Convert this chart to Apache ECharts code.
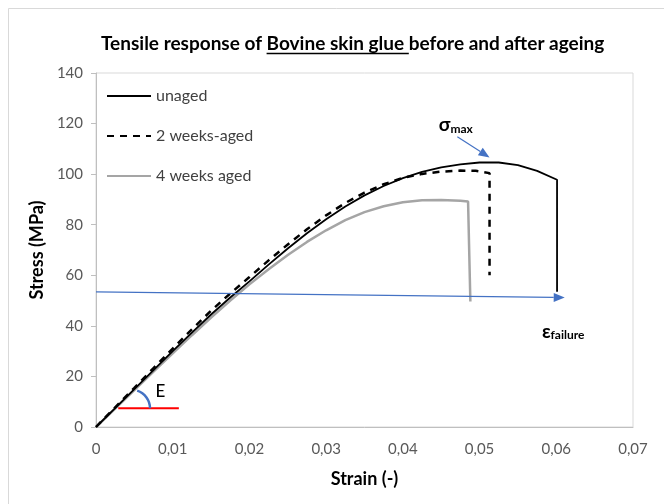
<!DOCTYPE html>
<html>
<head>
<meta charset="utf-8">
<script src="https://cdn.jsdelivr.net/npm/echarts@6/dist/echarts.min.js"></script>
<style>
html, body { margin: 0; padding: 0; background: #fff; }
#chart { width: 664px; height: 504px; }
</style>
</head>
<body>
<div id="chart"></div>
<script>
;
(function(window, document, echarts){

	/** data **/
	var seriesNames = ['unaged', '2 weeks-aged', '4 weeks aged'];

	var unagedStrain = [0, 0.0025, 0.005, 0.0075, 0.01, 0.0125, 0.015, 0.0175, 0.02, 0.0225, 0.025, 0.0275, 0.03, 0.0325, 0.035, 0.0375, 0.04, 0.0425, 0.045, 0.0475, 0.05, 0.0525, 0.055, 0.0575, 0.0601, 0.0601];
	var unagedStress = [0, 7.5, 15, 22.5, 30, 37.3, 44.5, 51.2, 57.6, 64.2, 70.6, 76.6, 82.2, 87.2, 91.6, 95.3, 98.4, 100.9, 102.7, 103.9, 104.6, 104.6, 103.6, 101.3, 97.8, 53.5];

	var weeks2Strain = [0, 0.0025, 0.005, 0.0075, 0.01, 0.0125, 0.015, 0.0175, 0.02, 0.0225, 0.025, 0.0275, 0.03, 0.0325, 0.035, 0.0375, 0.04, 0.0425, 0.045, 0.0475, 0.0495, 0.0513, 0.0513];
	var weeks2Stress = [0, 7.8, 15.5, 23.3, 31, 38.6, 46, 52.8, 59.3, 65.9, 72.2, 78.2, 83.7, 88.6, 92.7, 96, 98.5, 100.1, 101, 101.4, 101.3, 100.4, 60];

	var weeks4Strain = [0, 0.0025, 0.005, 0.0075, 0.01, 0.0125, 0.015, 0.0175, 0.02, 0.0225, 0.025, 0.0275, 0.03, 0.0325, 0.035, 0.0375, 0.04, 0.0425, 0.045, 0.0475, 0.0485, 0.0488];
	var weeks4Stress = [0, 7.3, 14.6, 21.9, 29.1, 36.3, 43.3, 50, 56.4, 62.4, 68, 73.2, 77.8, 81.8, 85, 87.3, 88.9, 89.7, 89.8, 89.5, 89.2, 49.6];

	var xTickLabels = ['0', '0,01', '0,02', '0,03', '0,04', '0,05', '0,06', '0,07'];
	var yTickLabels = ['0', '20', '40', '60', '80', '100', '120', '140'];

	function pairs(xs, ys){
		var out = [];
		for (var i = 0; i < xs.length; i++) out.push([xs[i], ys[i]]);
		return out;
	}

	var titleSize = 19;
	var ctx = document.createElement('canvas').getContext('2d');
	ctx.font = 'bold ' + titleSize + 'px Lato';
	var titleText = 'Tensile response of Bovine skin glue before and after ageing';
	var titleW = ctx.measureText(titleText).width;
	var preW = ctx.measureText('Tensile response of ').width;
	var underW = ctx.measureText('Bovine skin glue ').width;
	var titleLeft = Math.round(353 - titleW / 2);

	var chart = echarts.init(document.getElementById('chart'));
	var option = {
		animation: false,
		backgroundColor: '#fff',
		title: {
			text: titleText,
			left: titleLeft,
			top: 34,
			padding: 0,
			textStyle: { fontFamily: 'Lato', fontWeight: 'bold', fontSize: titleSize, color: '#000' }
		},
		legend: {
			orient: 'vertical',
			left: 106,
			top: 88,
			padding: 0,
			itemWidth: 44,
			itemHeight: 14,
			itemGap: 24,
			selectedMode: false,
			itemStyle: { opacity: 0 },
			textStyle: { fontFamily: 'Lato', fontSize: 16, color: '#404040' },
			data: seriesNames
		},
		grid: {
			left: 96, right: 31, top: 73, bottom: 77,
			show: true, borderColor: '#d9d9d9', borderWidth: 1
		},
		xAxis: {
			type: 'value',
			min: 0, max: 0.07, interval: 0.01,
			name: 'Strain (-)',
			nameLocation: 'middle',
			nameGap: 43,
			nameTextStyle: { fontFamily: 'Lato', fontWeight: 'bold', fontSize: 18, color: '#000' },
			axisLine: { lineStyle: { color: '#bfbfbf' } },
			axisTick: { show: false },
			splitLine: { show: false },
			axisLabel: {
				margin: 15,
				fontFamily: 'Lato', fontSize: 15, color: '#595959',
				formatter: function(v){ return xTickLabels[Math.round(v / 0.01)]; }
			}
		},
		yAxis: {
			type: 'value',
			min: 0, max: 140, interval: 20,
			name: 'Stress (MPa)',
			nameLocation: 'middle',
			nameGap: 31,
			nameTextStyle: { fontFamily: 'Lato', fontWeight: 'bold', fontSize: 18, color: '#000' },
			axisLine: { show: true, lineStyle: { color: '#bfbfbf' } },
			axisTick: { show: true, length: 5, lineStyle: { color: '#bfbfbf' } },
			splitLine: { show: false },
			axisLabel: {
				margin: 13,
				fontFamily: 'Lato', fontSize: 15, color: '#595959',
				formatter: function(v){ return yTickLabels[Math.round(v / 20)]; }
			}
		},
		series: [
			{
				name: seriesNames[0], type: 'line', symbol: 'none', showSymbol: false, z: 4,
				lineStyle: { color: '#000', width: 1.8 },
				itemStyle: { color: '#000' },
				data: pairs(unagedStrain, unagedStress)
			},
			{
				name: seriesNames[1], type: 'line', symbol: 'none', showSymbol: false, z: 3,
				lineStyle: { color: '#000', width: 2.5, type: [7, 6] },
				itemStyle: { color: '#000' },
				data: pairs(weeks2Strain, weeks2Stress)
			},
			{
				name: seriesNames[2], type: 'line', symbol: 'none', showSymbol: false, z: 2,
				lineStyle: { color: '#a5a5a5', width: 2.5 },
				itemStyle: { color: '#a5a5a5' },
				data: pairs(weeks4Strain, weeks4Stress)
			}
		]
	};
	chart.setOption(option);

	/** annotations **/
	var blue = '#4472c4';
	function px(pt){ return chart.convertToPixel({ gridIndex: 0 }, pt); }
	function arrow(a, b, color, w, hl, hw){
		var dx = b[0] - a[0], dy = b[1] - a[1];
		var len = Math.sqrt(dx * dx + dy * dy), ux = dx / len, uy = dy / len;
		var bx = b[0] - ux * hl, by = b[1] - uy * hl;
		return [
			{ type: 'line', silent: true, z: 20, shape: { x1: a[0], y1: a[1], x2: bx, y2: by }, style: { stroke: color, lineWidth: w } },
			{ type: 'polygon', silent: true, z: 20, shape: { points: [[b[0], b[1]], [bx - uy * hw / 2, by + ux * hw / 2], [bx + uy * hw / 2, by - ux * hw / 2]] }, style: { fill: color } }
		];
	}

	var redA = px([0.0029, 7.4]), redB = px([0.0108, 7.4]);
	var arcC = px([0.00463, 7.4]);
	var sigStart = px([0.0471, 114.8]), sigEnd = px([0.0513, 106.6]);
	var hStart = px([0, 53.4]), hEnd = px([0.0611, 51.2]);
	var sigText = px([0.0469, 119.5]);
	var epsText = px([0.0609, 38]);
	var eText = px([0.0084, 13.9]);

	var subRich = {
		a: { fontFamily: 'Lato', fontWeight: 'bold', fontSize: 19, color: '#000', lineHeight: 20, verticalAlign: 'bottom' },
		b: { fontFamily: 'Lato', fontWeight: 'bold', fontSize: 12, color: '#000', lineHeight: 12, verticalAlign: 'bottom' }
	};

	var graphics = [
		{ type: 'rect', silent: true, shape: { x: 8.5, y: 8.5, width: 700, height: 600 }, style: { fill: 'none', stroke: '#d9d9d9', lineWidth: 1 } },
		{ type: 'line', silent: true, shape: { x1: titleLeft + preW, y1: 53.5, x2: titleLeft + preW + underW, y2: 53.5 }, style: { stroke: '#000', lineWidth: 1.4 } },
		{ type: 'line', silent: true, z: 20, shape: { x1: redA[0], y1: redA[1], x2: redB[0], y2: redB[1] }, style: { stroke: '#ff0000', lineWidth: 2 } },
		{ type: 'arc', silent: true, z: 20, shape: { cx: arcC[0], cy: arcC[1], r: 18.5, startAngle: -1.26, endAngle: 0, clockwise: true }, style: { stroke: blue, lineWidth: 2.5, fill: 'none' } },
		{ type: 'text', silent: true, z: 20, x: eText[0], y: eText[1], style: { text: 'E', fontFamily: 'Lato', fontSize: 17, fontWeight: 500, fill: '#000', align: 'center', verticalAlign: 'middle' } },
		{ type: 'text', silent: true, z: 20, x: sigText[0], y: sigText[1], style: { text: '{a|σ}{b|max}', rich: subRich, align: 'center', verticalAlign: 'middle' } },
		{ type: 'text', silent: true, z: 20, x: epsText[0], y: epsText[1], style: { text: '{a|ε}{b|failure}', rich: subRich, align: 'center', verticalAlign: 'middle' } }
	];
	graphics = graphics.concat(arrow(sigStart, sigEnd, blue, 1.2, 11, 9));
	graphics = graphics.concat(arrow(hStart, hEnd, blue, 1.2, 11, 9));

	chart.setOption({ graphic: graphics });

})(window, document, echarts);
</script>
</body>
</html>
